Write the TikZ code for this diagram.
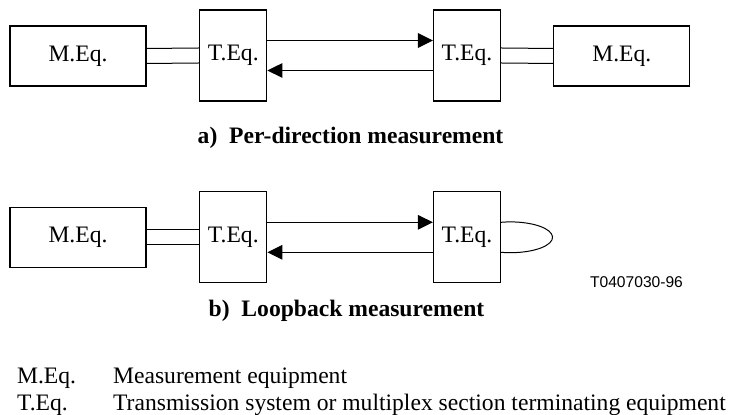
\documentclass[tikz,border=0pt]{standalone}
\usepackage{fontspec}
\setmainfont{Liberation Serif}
\newfontfamily\labelfont{Liberation Sans}
\usepackage{tikz}
\usetikzlibrary{arrows.meta}

\begin{document}
\begin{tikzpicture}[x=0.5pt, y=-0.5pt,
    every node/.style={font=\fontsize{11.8}{13.8}\selectfont},
    meqbox/.style={draw, line width=0.6pt, minimum width=68pt, minimum height=30pt, inner sep=0pt},
    teqbox/.style={draw, line width=0.6pt, minimum width=33.5pt, minimum height=45.5pt, inner sep=0pt},
    link/.style={line width=0.5pt},
    sig/.style={line width=0.5pt, -{Triangle[length=7.5pt, width=7.3pt]}},
    caption/.style={anchor=base west, inner sep=0pt, font=\fontsize{11.8}{13.8}\selectfont\bfseries},
    legend/.style={anchor=base west, inner sep=0pt}]
    \useasboundingbox (0, 0) rectangle (731, 415);

    % a) per-direction
    \node[meqbox] (meqA1) at (78, 56) {M.Eq.};
    \node[teqbox] (teqA1) at (233.3, 55.5) {T.Eq.};
    \node[teqbox] (teqA2) at (467, 55.5) {T.Eq.};
    \node[meqbox] (meqA2) at (621.8, 56) {M.Eq.};
    \draw[link] ([yshift=3.75pt]meqA1.east) -- ([yshift=3.75pt]teqA1.west);
    \draw[link] ([yshift=-3.75pt]meqA1.east) -- ([yshift=-3.75pt]teqA1.west);
    \draw[link] ([yshift=3.75pt]teqA2.east) -- ([yshift=3.75pt]meqA2.west);
    \draw[link] ([yshift=-3.75pt]teqA2.east) -- ([yshift=-3.75pt]meqA2.west);
    \draw[sig] ([yshift=7.5pt]teqA1.east) -- ([yshift=7.5pt]teqA2.west);
    \draw[sig] ([yshift=-7.5pt]teqA2.west) -- ([yshift=-7.5pt]teqA1.east);
    \node[caption] (capA) at (197.3, 143.3) {a)\enspace Per-direction measurement};

    % b) loopback
    \node[meqbox] (meqB1) at (78, 237.3) {M.Eq.};
    \node[teqbox] (teqB1) at (233.3, 237.3) {T.Eq.};
    \node[teqbox] (teqB2) at (467, 237.3) {T.Eq.};
    \draw[link] ([yshift=3.75pt]meqB1.east) -- ([yshift=3.75pt]teqB1.west);
    \draw[link] ([yshift=-3.75pt]meqB1.east) -- ([yshift=-3.75pt]teqB1.west);
    \draw[sig] ([yshift=7.5pt]teqB1.east) -- ([yshift=7.5pt]teqB2.west);
    \draw[sig] ([yshift=-7.5pt]teqB2.west) -- ([yshift=-7.5pt]teqB1.east);
    \draw[link] ([yshift=7.5pt]teqB2.east)
      arc[start angle=103, end angle=-103, x radius=21pt, y radius=7.7pt];
    \node[font=\labelfont\fontsize{7.8}{9}\selectfont] (ref) at (636.5, 282.5) {T0407030-96};
    \node[caption] (capB) at (208.3, 317) {b)\enspace Loopback measurement};

    % legend
    \node[legend] (keyM) at (16.7, 383.3) {M.Eq.};
    \node[legend] (txtM) at (112.7, 383.3) {Measurement equipment};
    \node[legend] (keyT) at (16.7, 410) {T.Eq.};
    \node[legend] (txtT) at (112.7, 410) {Transmission system or multiplex section terminating equipment};
\end{tikzpicture}
\end{document}
